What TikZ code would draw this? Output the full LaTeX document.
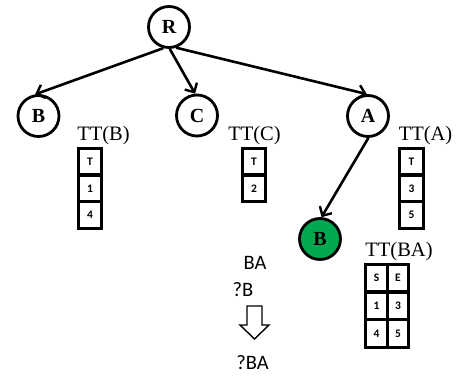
\documentclass[tikz,border=0pt]{standalone}
\usepackage{fontspec}
\setmainfont{Liberation Serif}
\newfontfamily\calib{Carlito}
\usetikzlibrary{arrows.meta}
\definecolor{leafgreen}{RGB}{0,168,80}
\tikzset{
  tnode/.style={circle,draw,line width=2.8pt,minimum size=41pt,inner sep=0pt,font=\fontsize{20}{20}\selectfont\bfseries},
  conn/.style={line width=2.6pt,-{Straight Barb[length=7pt,width=14pt,line width=2.4pt]}},
  cell/.style={draw,line width=2.8pt,minimum width=23.4pt,minimum height=26.7pt,inner sep=0pt,outer sep=0pt,font=\calib\fontsize{11.5}{11.5}\selectfont\bfseries},
  cellba/.style={cell,minimum width=21.5pt,minimum height=27.7pt},
  ttlabel/.style={anchor=base,inner sep=0pt,font=\fontsize{20.5}{20.5}\selectfont},
  sanslabel/.style={anchor=base,inner sep=0pt,font=\calib\fontsize{20.5}{20.5}\selectfont}
}
\begin{document}
\begin{tikzpicture}[x=1pt,y=-1pt]
\useasboundingbox (0,0) rectangle (458,375);
% tree nodes
\node[tnode] (R) at (169,27) {R};
\node[tnode] (B) at (38.5,116) {B};
\node[tnode] (C) at (197,115.5) {C};
\node[tnode] (A) at (368,116) {A};
\node[tnode,fill=leafgreen] (BG) at (320,239) {B};
% connectors
\draw[conn] (R.-105) -- (B.99);
\draw[conn] (R.-88) -- (C.95);
\draw[conn] (R.-71) -- (A.93);
\draw[conn] (A.-89) -- (BG.86);
% labels
\node[ttlabel] (lb) at (103.5,140) {TT(B)};
\node[ttlabel] (lc) at (254.5,140) {TT(C)};
\node[ttlabel] (la) at (425.5,140) {TT(A)};
\node[ttlabel] (lba) at (399,256.7) {TT(BA)};
% TT(B)
\node[cell] (b1) at (90,161.5) {T};
\node[cell] (b2) at (90,188.5) {1};
\node[cell] (b3) at (90,215) {4};
% TT(C)
\node[cell] (c1) at (254,161.5) {T};
\node[cell] (c2) at (254,188.5) {2};
% TT(A)
\node[cell] (a1) at (411.5,161.5) {T};
\node[cell] (a2) at (411.5,188.5) {3};
\node[cell] (a3) at (411.5,215) {5};
% TT(BA)
\node[cellba] (s1) at (376.5,278) {S};
\node[cellba] (e1) at (398,278) {E};
\node[cellba] (s2) at (376.5,306) {1};
\node[cellba] (e2) at (398,306) {3};
\node[cellba] (s3) at (376.5,333.5) {4};
\node[cellba] (e3) at (398,333.5) {5};
% query text
\node[sanslabel] (qba) at (255,269.3) {BA};
\node[sanslabel] (qb) at (243,296) {?B};
\draw[line width=1.4pt,line join=miter] (247,306) -- (262,306) -- (262,325) -- (269,325) -- (254.5,339) -- (240,325) -- (247,325) -- cycle;
\node[sanslabel] (qres) at (252.5,369.3) {?BA};
\end{tikzpicture}
\end{document}
